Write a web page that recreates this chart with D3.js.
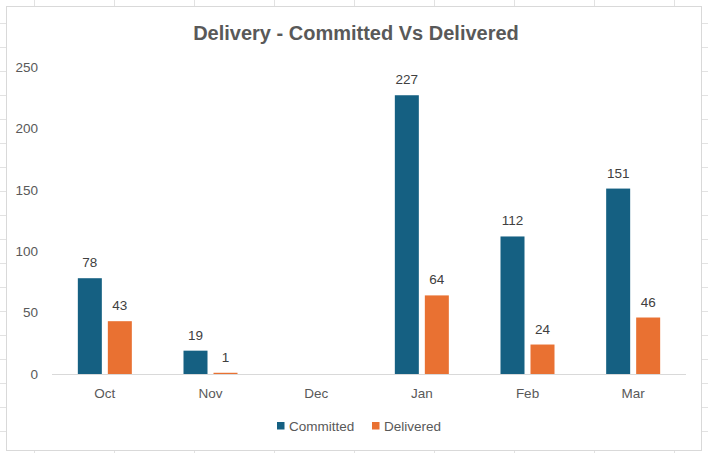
<!DOCTYPE html>
<html>
<head>
<meta charset="utf-8">
<script src="https://cdn.jsdelivr.net/npm/d3@7"></script>
<style>
  html, body { margin: 0; padding: 0; background: #ffffff; }
  svg { display: block; }
</style>
</head>
<body>
<svg id="chart" width="708" height="453"></svg>
<script>
const categories = ["Oct", "Nov", "Dec", "Jan", "Feb", "Mar"];
const seriesNames = ["Committed", "Delivered"];
const committed = [78, 19, null, 227, 112, 151];
const delivered = [43, 1, null, 64, 24, 46];
const yTicks = [0, 50, 100, 150, 200, 250];
const colors = ["#156082", "#E97132"];
const titleText = "Delivery - Committed Vs Delivered";

const W = 708, H = 453;
const svg = d3.select("#chart");

// spreadsheet background grid
const grid = svg.append("g");
d3.range(34, W, 80).forEach(x => grid.append("line")
  .attr("x1", x + 0.5).attr("x2", x + 0.5).attr("y1", 0).attr("y2", H)
  .attr("stroke", "#e2e2e2").attr("stroke-width", 1));
d3.range(23.5, H, 24).forEach(y => grid.append("line")
  .attr("x1", 0).attr("x2", W).attr("y1", y).attr("y2", y)
  .attr("stroke", "#e2e2e2").attr("stroke-width", 1));

// chart area
svg.append("rect")
  .attr("x", 6.5).attr("y", 6.5).attr("width", 695).attr("height", 444)
  .attr("fill", "#ffffff").attr("stroke", "#d9d9d9").attr("stroke-width", 1);

const plot = { left: 52, right: 686, top: 67, bottom: 374 };

const x0 = d3.scaleBand().domain(categories).range([plot.left, plot.right]).padding(0);
const groupW = 54;
const x1 = d3.scaleBand().domain(seriesNames).range([0, groupW]).paddingInner(0.2);
const y = d3.scaleLinear().domain([0, 250]).range([plot.bottom, plot.top]);

const font = "'Liberation Sans', Arial, sans-serif";

// title
svg.append("text")
  .attr("x", 356).attr("y", 40)
  .attr("text-anchor", "middle")
  .attr("font-family", font)
  .attr("font-weight", "bold")
  .attr("font-size", 20)
  .attr("fill", "#595959")
  .text(titleText);

// y axis (labels only)
const yAxis = d3.axisLeft(y).tickValues(yTicks).tickSize(0).tickPadding(0);
const gy = svg.append("g").attr("transform", `translate(38,0)`).call(yAxis);
gy.select(".domain").remove();
gy.selectAll("text")
  .attr("font-family", font).attr("font-size", 13.5).attr("fill", "#595959");

// x axis
const xAxis = d3.axisBottom(x0).tickSize(0).tickPadding(14);
const gx = svg.append("g").attr("transform", `translate(0,${plot.bottom})`).call(xAxis);
gx.select(".domain").attr("stroke", "#d9d9d9").attr("d", `M${plot.left},0.5H${plot.right}`);
gx.selectAll("text")
  .attr("font-family", font).attr("font-size", 13.5).attr("fill", "#595959");

// bars
const data = categories.map((c, i) => ({ cat: c, vals: [committed[i], delivered[i]] }));
const groups = svg.append("g").selectAll("g").data(data).join("g")
  .attr("transform", d => `translate(${x0(d.cat) + (x0.bandwidth() - groupW) / 2},0)`);

groups.selectAll("rect")
  .data(d => d.vals.map((v, j) => ({ s: seriesNames[j], v, j })).filter(e => e.v != null))
  .join("rect")
  .attr("x", e => x1(e.s))
  .attr("width", x1.bandwidth())
  .attr("y", e => y(e.v))
  .attr("height", e => y(0) - y(e.v))
  .attr("fill", e => colors[e.j]);

groups.selectAll("text")
  .data(d => d.vals.map((v, j) => ({ s: seriesNames[j], v, j })).filter(e => e.v != null))
  .join("text")
  .attr("x", e => x1(e.s) + x1.bandwidth() / 2)
  .attr("y", e => y(e.v) - 11)
  .attr("text-anchor", "middle")
  .attr("font-family", font).attr("font-size", 13.5).attr("fill", "#404040")
  .text(e => e.v);

// legend
const legend = svg.append("g");
const legendItems = [{ name: seriesNames[0], x: 277 }, { name: seriesNames[1], x: 372 }];
legendItems.forEach((it, i) => {
  legend.append("rect").attr("x", it.x).attr("y", 422).attr("width", 7.5).attr("height", 7.5)
    .attr("fill", colors[i]);
  legend.append("text").attr("x", it.x + 12).attr("y", 431)
    .attr("font-family", font).attr("font-size", 13.5).attr("fill", "#595959")
    .text(it.name);
});
</script>
</body>
</html>
